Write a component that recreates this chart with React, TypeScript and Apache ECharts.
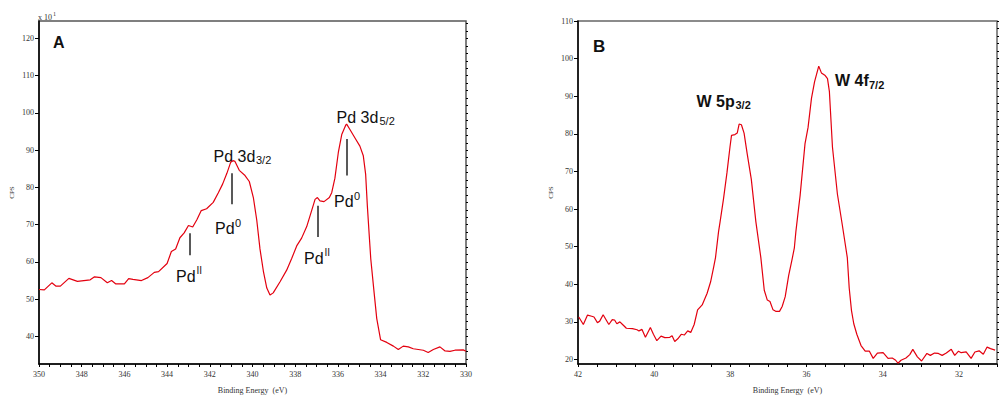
import React, { useEffect, useRef } from "react";
import * as echarts from "echarts";

// Panel A: Pd 3d region
const pdEnergy = [
  350.0, 349.75, 349.4, 349.2, 349.0, 348.6, 348.2, 347.6, 347.4, 347.1, 346.8, 346.6, 346.4, 346.0,
  345.8, 345.6, 345.2, 344.9, 344.6, 344.4, 344.0, 343.8, 343.6, 343.4, 343.2, 343.0, 342.8, 342.6,
  342.4, 342.15, 341.84, 341.6, 341.4, 341.2, 341.02, 340.92, 340.82, 340.62, 340.35, 340.15, 339.96,
  339.8, 339.65, 339.49, 339.33, 339.18, 339.03, 338.71, 338.4, 338.16, 337.93, 337.7, 337.46, 337.23,
  337.07, 336.96, 336.84, 336.65, 336.4, 336.29, 336.14, 335.98, 335.82, 335.63, 335.59, 335.43,
  335.2, 334.97, 334.81, 334.7, 334.62, 334.53, 334.46, 334.31, 334.18, 334.0, 333.71, 333.4, 333.17,
  332.94, 332.7, 332.47, 332.0, 331.77, 331.53, 331.22, 330.98, 330.75, 330.52, 330.13, 330.0,
];
const pdCps = [
  52.6, 52.5, 54.4, 53.5, 53.5, 55.6, 54.8, 55.2, 56.0, 55.8, 54.4, 55.0, 54.1, 54.1,
  55.5, 55.3, 55.0, 55.8, 57.2, 57.4, 59.6, 62.8, 63.5, 66.5, 67.8, 69.8, 69.4, 71.4,
  73.8, 74.3, 76.0, 78.6, 80.9, 83.8, 86.8, 87.2, 87.0, 84.6, 83.2, 81.6, 77.3,
  71.2, 63.5, 57.5, 53.0, 51.1, 51.7, 54.7, 57.8, 61.0, 64.3, 66.4, 69.5, 73.8,
  76.8, 77.3, 76.4, 76.2, 77.3, 78.6, 82.5, 89.4, 94.2, 96.8, 97.0, 95.5,
  93.3, 91.1, 88.5, 83.5, 75.0, 66.9, 60.8, 52.1, 44.8, 39.1, 38.4, 37.4, 36.5,
  37.4, 37.2, 36.7, 36.3, 35.7, 36.5, 37.2, 36.1, 36.0, 36.3, 36.4, 36.0,
];

// Panel B: W 5p / 4f region
const wEnergy = [
  41.98, 41.86, 41.75, 41.64, 41.58, 41.49, 41.43, 41.34, 41.26, 41.19, 41.1, 41.04, 40.98, 40.9,
  40.83, 40.73, 40.57, 40.45, 40.4, 40.32, 40.23, 40.1, 40.02, 39.93, 39.82, 39.72, 39.59, 39.53,
  39.46, 39.38, 39.29, 39.21, 39.12, 39.04, 38.95, 38.86, 38.74, 38.61, 38.52, 38.44, 38.39, 38.31,
  38.27, 38.18, 38.09, 38.01, 37.97, 37.88, 37.82, 37.77, 37.71, 37.64, 37.56, 37.45, 37.33, 37.2,
  37.11, 37.03, 36.96, 36.88, 36.81, 36.71, 36.64, 36.56, 36.47, 36.38, 36.32, 36.28, 36.21, 36.17,
  36.04, 35.96, 35.87, 35.79, 35.68, 35.61, 35.51, 35.45, 35.4, 35.32, 35.19, 35.06, 34.93, 34.88,
  34.82, 34.76, 34.68, 34.57, 34.46, 34.35, 34.25, 34.14, 33.99, 33.86, 33.75, 33.66, 33.6, 33.52,
  33.39, 33.29, 33.21, 33.09, 32.98, 32.84, 32.75, 32.64, 32.54, 32.44, 32.33, 32.2, 32.11, 32.01,
  31.94, 31.81, 31.68, 31.58, 31.47, 31.36, 31.26, 31.17, 31.05,
];
const wCps = [
  31.3, 29.3, 31.8, 31.5, 31.3, 29.8, 30.2, 31.9, 30.5, 29.3, 30.6, 30.5, 29.5, 30.0,
  29.3, 28.3, 28.2, 27.9, 27.6, 28.0, 25.9, 28.5, 26.7, 25.0, 26.2, 25.8, 25.9, 26.3,
  24.8, 25.5, 26.7, 26.5, 27.6, 27.2, 29.3, 33.2, 34.5, 37.6, 40.6, 44.5, 47.1, 54.0,
  56.6, 62.7, 69.6, 76.5, 79.6, 79.8, 80.2, 82.6, 82.4, 80.2, 74.8, 67.9, 56.6, 47.1,
  38.4, 35.8, 35.4, 33.2, 32.8, 32.8, 34.1, 36.7, 42.3, 46.6, 49.7, 54.0, 60.1, 63.5,
  77.4, 81.7, 89.5, 93.8, 98.0, 96.2, 95.5, 94.7, 91.2, 76.5, 64.0, 55.7, 47.1, 39.0,
  33.0, 29.5, 26.7, 23.7, 22.2, 22.2, 20.3, 21.7, 21.8, 20.3, 20.4, 19.8, 19.0, 19.8,
  20.4, 21.3, 22.7, 20.7, 19.6, 21.6, 21.1, 21.7, 21.6, 21.1, 21.7, 22.7, 21.1, 22.2,
  21.8, 22.0, 20.3, 22.0, 22.3, 21.4, 23.3, 22.9, 22.5,
];

// Tick values
const pdYLabels = [40, 50, 60, 70, 80, 90, 100, 110, 120];
const pdYMinor = [
  34, 36, 38, 40, 42, 44, 46, 48, 50, 52, 54, 56, 58, 60, 62, 64, 66, 68, 70, 72, 74, 76, 78, 80,
  82, 84, 86, 88, 90, 92, 94, 96, 98, 100, 102, 104, 106, 108, 110, 112, 114, 116, 118, 120, 122, 124,
];
const wYLabels = [20, 30, 40, 50, 60, 70, 80, 90, 100, 110];
const wYMinor = [
  20, 22, 24, 26, 28, 30, 32, 34, 36, 38, 40, 42, 44, 46, 48, 50, 52, 54, 56, 58, 60, 62, 64, 66,
  68, 70, 72, 74, 76, 78, 80, 82, 84, 86, 88, 90, 92, 94, 96, 98, 100, 102, 104, 106, 108, 110,
];

// Annotation marker segments (data coordinates) on panel A
const pdMarkX = [340.95, 335.59, 342.93, 336.96];
const pdMarkTop = [83.8, 93.0, 67.7, 75.1];
const pdMarkBottom = [75.5, 83.2, 61.8, 66.7];

const SERIF = "'Liberation Serif', 'Times New Roman', serif";
const SANS = "'Liberation Sans', Arial, sans-serif";
const RED = "#e3000f";

function xAxisCfg(gridIndex: number, min: number, max: number) {
  return {
    type: "value",
    gridIndex,
    min,
    max,
    inverse: true,
    interval: 0.5,
    axisLine: { show: true, onZero: false, lineStyle: { color: "#000", width: 1.5 } },
    axisTick: { show: true, length: 3, lineStyle: { color: "#000", width: 1 } },
    axisLabel: {
      formatter: (v: number) => (Math.abs(v % 2) < 1e-9 ? String(v) : ""),
      color: "#333",
      fontFamily: SERIF,
      fontSize: 8,
      margin: 6,
      showMinLabel: true,
      showMaxLabel: true,
    },
    splitLine: { show: false },
    name: "Binding Energy  (eV)",
    nameLocation: "middle",
    nameGap: 22,
    nameTextStyle: { fontFamily: SERIF, fontSize: 8, color: "#333" },
  };
}

function yAxisMain(gridIndex: number, min: number, max: number, labels: number[]) {
  return {
    type: "value",
    gridIndex,
    min,
    max,
    axisLine: { show: true, onZero: false, lineStyle: { color: "#000", width: 1.5 } },
    axisTick: { show: true, length: 4, customValues: labels, lineStyle: { color: "#000" } },
    axisLabel: {
      customValues: labels,
      color: "#333",
      fontFamily: SERIF,
      fontSize: 8,
      margin: 5,
    },
    splitLine: { show: false },
    name: "CPS",
    nameLocation: "middle",
    nameRotate: 90,
    nameGap: 24,
    nameTextStyle: { fontFamily: SERIF, fontSize: 7, color: "#333" },
  };
}

function yAxisMinor(gridIndex: number, min: number, max: number, ticks: number[]) {
  return {
    type: "value",
    gridIndex,
    min,
    max,
    axisLine: { show: false },
    axisTick: { show: true, length: 2, customValues: ticks, lineStyle: { color: "#000" } },
    axisLabel: { show: false },
    splitLine: { show: false },
  };
}

function txt(x: number, y: number, text: string, size: number, bold = false, family = SANS, color = "#111") {
  return {
    type: "text",
    x,
    y,
    silent: true,
    style: {
      text,
      fill: color,
      font: `${bold ? "bold " : ""}${size}px ${family}`,
      verticalAlign: "middle",
      align: "left",
    },
  };
}

export default function App() {
  const ref = useRef<HTMLDivElement>(null);

  useEffect(() => {
    if (!ref.current) return;
    const chart = echarts.init(ref.current, undefined, { renderer: "svg" });

    const markData = pdMarkX.map((x, i) => [
      { coord: [x, pdMarkTop[i]] },
      { coord: [x, pdMarkBottom[i]] },
    ]);

    chart.setOption({
      animation: false,
      backgroundColor: "#fff",
      grid: [
        { left: 39, top: 21, width: 427, height: 354, show: true, borderColor: "#555", borderWidth: 1.5, backgroundColor: "transparent" },
        { left: 578, top: 21, width: 429, height: 351, show: true, borderColor: "#666", borderWidth: 1.5, backgroundColor: "transparent" },
      ],
      xAxis: [xAxisCfg(0, 330, 350), xAxisCfg(1, 31, 42)],
      yAxis: [
        yAxisMain(0, 32.6, 124.7, pdYLabels),
        yAxisMinor(0, 32.6, 124.7, pdYMinor),
        yAxisMain(1, 18.8, 110, wYLabels),
        yAxisMinor(1, 18.8, 110, wYMinor),
      ],
      series: [
        {
          type: "line",
          xAxisIndex: 0,
          yAxisIndex: 0,
          data: pdEnergy.map((e, i) => [e, pdCps[i]]),
          showSymbol: false,
          symbol: "none",
          lineStyle: { color: RED, width: 1.2 },
          markLine: {
            silent: true,
            symbol: ["none", "none"],
            label: { show: false },
            lineStyle: { color: "#222", width: 1.5, type: "solid" },
            data: markData,
          },
        },
        {
          type: "line",
          xAxisIndex: 1,
          yAxisIndex: 2,
          data: wEnergy.map((e, i) => [e, wCps[i]]),
          showSymbol: false,
          symbol: "none",
          lineStyle: { color: RED, width: 1.2 },
        },
      ],
      graphic: [
        // multiplier label
        txt(38, 17, "x 10", 8, false, SERIF, "#333"),
        txt(53, 13.5, "1", 6, false, SERIF, "#333"),
        // panel letters
        txt(53, 42, "A", 16, true),
        txt(593, 46.5, "B", 17, true),
        // Pd 3d3/2
        txt(213.5, 156.5, "Pd 3d", 16),
        txt(256, 160, "3/2", 11),
        // Pd 3d5/2
        txt(336.5, 117.5, "Pd 3d", 16),
        txt(379.5, 121, "5/2", 11),
        // Pd0 labels
        txt(215, 228, "Pd", 16),
        txt(235, 222.5, "0", 11),
        txt(334, 201.5, "Pd", 16),
        txt(354, 196, "0", 11),
        // PdII labels
        txt(176, 276.5, "Pd", 16),
        txt(196.5, 270.5, "II", 10),
        txt(304, 258, "Pd", 16),
        txt(324.5, 252.5, "II", 10),
        // W labels
        txt(696.5, 101.5, "W 5p", 16, true),
        txt(735.5, 105, "3/2", 11, true),
        txt(835, 80.5, "W 4f", 16, true),
        txt(869, 84.5, "7/2", 11, true),
      ],
    });

    return () => chart.dispose();
  }, []);

  return (
    <div
      ref={ref}
      style={{ position: "fixed", left: 0, top: 0, width: 1000, height: 399, background: "#fff" }}
    />
  );
}
